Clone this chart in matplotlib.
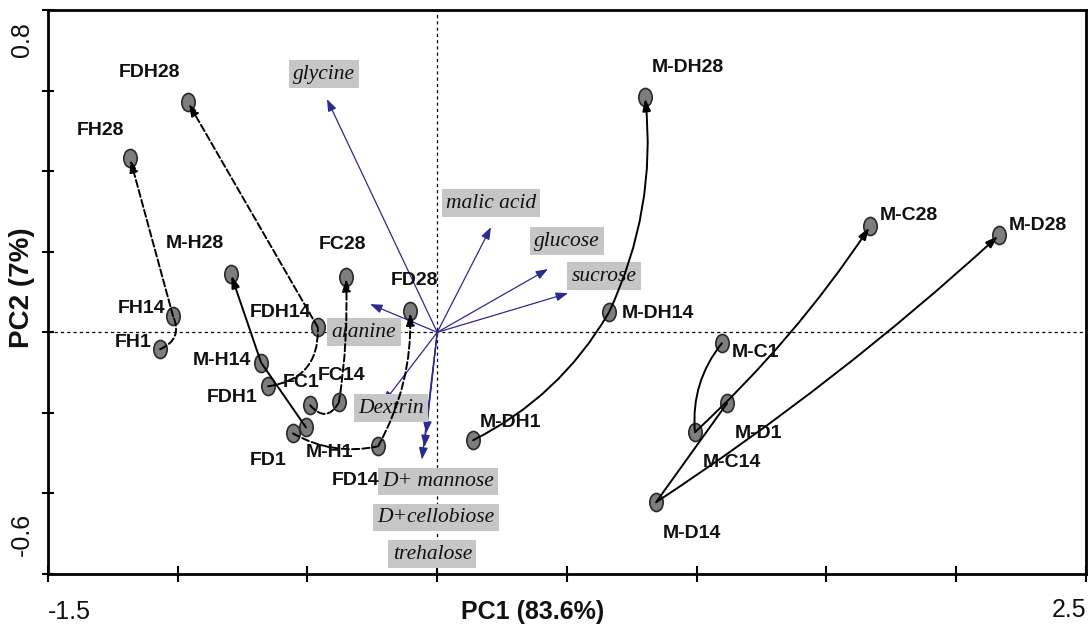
import matplotlib
matplotlib.use('Agg')
import numpy as np
import matplotlib.pyplot as plt
from matplotlib import font_manager
from matplotlib.path import Path
from matplotlib.transforms import Affine2D


def pick_font(*names):
    have = {f.name for f in font_manager.fontManager.ttflist}
    for n in names:
        if n in have:
            return n
    return 'DejaVu Sans'


sans = pick_font('Liberation Sans Narrow', 'Liberation Sans', 'Roboto')
serif = pick_font('Liberation Serif', 'DejaVu Serif')

#==========Scores (PC1 / PC2)==========
samples = ['FH1', 'FH14', 'FH28', 'FDH1', 'FDH14', 'FDH28',
           'FC1', 'FC14', 'FC28', 'FD1', 'FD14', 'FD28',
           'M-H1', 'M-H14', 'M-H28', 'M-DH1', 'M-DH14', 'M-DH28',
           'M-C1', 'M-C14', 'M-C28', 'M-D1', 'M-D14', 'M-D28']
pc1 = [-1.068, -1.018, -1.184, -0.652, -0.460, -0.961,
       -0.490, -0.379, -0.352, -0.556, -0.228, -0.105,
       -0.506, -0.679, -0.795, 0.138, 0.662, 0.801,
       1.097, 0.993, 1.668, 1.117, 0.843, 2.165]
pc2 = [-0.042, 0.040, 0.432, -0.134, 0.012, 0.571,
       -0.181, -0.174, 0.137, -0.251, -0.283, 0.052,
       -0.236, -0.075, 0.144, -0.268, 0.050, 0.584,
       -0.027, -0.248, 0.263, -0.176, -0.422, 0.241]

#==========Loadings==========
variables = ['glycine', 'malic acid', 'glucose', 'sucrose', 'alanine',
             'Dextrin', 'D+ mannose', 'D+cellobiose', 'trehalose']
load1 = [-0.425, 0.207, 0.427, 0.504, -0.259, -0.209, -0.059, -0.043, -0.050]
load2 = [0.579, 0.261, 0.157, 0.097, 0.070, -0.176, -0.316, -0.251, -0.285]

# storage time series (day 1 -> 14 -> 28)
series = [['FH1', 'FH14', 'FH28'], ['FDH1', 'FDH14', 'FDH28'],
          ['FC1', 'FC14', 'FC28'], ['FD1', 'FD14', 'FD28'],
          ['M-H1', 'M-H14', 'M-H28'], ['M-DH1', 'M-DH14', 'M-DH28'],
          ['M-C1', 'M-C14', 'M-C28'], ['M-D1', 'M-D14', 'M-D28']]

x_ticks = [-1.5, -1.0, -0.5, 0.0, 0.5, 1.0, 1.5, 2.0, 2.5]
y_ticks = [-0.6, -0.4, -0.2, 0.0, 0.2, 0.4, 0.6, 0.8]

#==========Layout==========
# curvature of each leg (1->14, 14->28)
bends = {'FH1': (0.5, 0.0), 'FDH1': (0.45, 0.0), 'FC1': (0.7, 0.05),
         'FD1': (0.19, 0.14), 'M-H1': (0.0, 0.0), 'M-DH1': (0.15, 0.14),
         'M-C1': (0.2, 0.06), 'M-D1': (0.0, 0.04)}
# label offsets in pixels
name_off = {'FDH28': (-38, 30), 'FH28': (-30, 28), 'M-H28': (-36, 31),
            'FC28': (-3, 33), 'FD28': (5, 31), 'FDH14': (-37, 15),
            'FH14': (-32, 8), 'FH1': (-27, 7), 'M-H14': (-39, 2),
            'FDH1': (-36, -11), 'FC1': (-9, 23), 'FC14': (3, 27),
            'M-H1': (24, -25), 'FD1': (-25, -27), 'FD14': (-23, -34),
            'M-DH1': (37, 18), 'M-DH14': (49, -1), 'M-DH28': (43, 30),
            'M-C1': (34, -9), 'M-D1': (31, -30), 'M-C14': (37, -30),
            'M-D14': (36, -31), 'M-C28': (39, 11), 'M-D28': (39, 10)}
var_off = {'glycine': (-3, 25), 'malic acid': (0, 24), 'glucose': (19, 28),
           'sucrose': (36, 17), 'alanine': (-6, -28), 'Dextrin': (8, -5),
           'D+ mannose': (16, -22), 'D+cellobiose': (10, -84),
           'trehalose': (8, -107)}

pos = {s: (x, y) for s, x, y in zip(samples, pc1, pc2)}

fig = plt.figure(figsize=(10.91, 6.39), dpi=100)
ax = fig.add_axes([0.044, 0.1017, 0.9514, 0.8826])
ax.set_xlim(x_ticks[0], x_ticks[-1])
ax.set_ylim(y_ticks[0], y_ticks[-1])

ax.axhline(0, color='k', lw=0.9, ls=(0, (2.5, 2.5)), zorder=1)
ax.axvline(0, color='k', lw=0.9, ls=(0, (2.5, 2.5)), zorder=1)

# loading vectors
navy = '#2b2b8f'
for name, lx, ly in zip(variables, load1, load2):
    ax.annotate('', xy=(lx, ly), xytext=(0, 0),
                arrowprops=dict(arrowstyle='-|>,head_length=0.6,head_width=0.22',
                                color=navy, lw=0.9, shrinkA=0, shrinkB=0,
                                mutation_scale=12), zorder=2)
    ax.annotate(name, xy=(lx, ly), xytext=var_off[name], textcoords='offset pixels',
                ha='center', va='center', fontsize=15.5, style='italic',
                family=serif, color='#111111', zorder=3,
                bbox=dict(boxstyle='square,pad=0.2', fc='#c6c6c6', ec='none'))

# sample markers
ellipse = Path.unit_circle().transformed(Affine2D().scale(0.74, 1.0))
ax.plot(pc1, pc2, ls='none', marker=ellipse, ms=13, mfc='#7d7d7d',
        mec='#2a2a2a', mew=1.2, zorder=4)

# trajectories over time
for grp in series:
    ls = '--' if grp[0].startswith('F') else '-'
    r1, r2 = bends[grp[0]]
    for (a, b), r, last in zip([(grp[0], grp[1]), (grp[1], grp[2])], (r1, r2), (False, True)):
        style = '-|>,head_length=0.6,head_width=0.2' if last else '-'
        ax.annotate('', xy=pos[b], xytext=pos[a],
                    arrowprops=dict(arrowstyle=style, color='k', lw=1.4, ls=ls,
                                    connectionstyle='arc3,rad=%g' % r,
                                    shrinkA=0, shrinkB=1, mutation_scale=12),
                    zorder=5)

for s in samples:
    ax.annotate(s, xy=pos[s], xytext=name_off[s], textcoords='offset pixels',
                ha='center', va='center', fontsize=14, fontweight='bold',
                family=sans, color='#111111', zorder=6)

# axes frame and ticks
for sp in ax.spines.values():
    sp.set_linewidth(2.0)
ax.set_xticks(x_ticks)
ax.set_yticks(y_ticks)
ax.set_xticklabels([])
ax.set_yticklabels([])
ax.tick_params(axis='x', direction='inout', length=12, width=1.5)
ax.tick_params(axis='y', direction='inout', length=8, width=1.5)

lab = dict(family=sans, fontsize=18, color='#111111', annotation_clip=False)
ax.annotate('%g' % x_ticks[0], xy=(0, 0), xycoords='axes fraction', xytext=(0, -38),
            textcoords='offset pixels', ha='left', va='center', **lab)
ax.annotate('%g' % x_ticks[-1], xy=(1, 0), xycoords='axes fraction', xytext=(0, -36),
            textcoords='offset pixels', ha='right', va='center', **lab)
ax.annotate('%g' % y_ticks[-1], xy=(0, 1), xycoords='axes fraction', xytext=(-26, -30),
            textcoords='offset pixels', ha='center', va='center', rotation=90, **lab)
ax.annotate('%g' % y_ticks[0], xy=(0, 0), xycoords='axes fraction', xytext=(-26, 40),
            textcoords='offset pixels', ha='center', va='center', rotation=90, **lab)

ax.annotate('PC1 (83.6%)', xy=(0.467, 0), xycoords='axes fraction', xytext=(0, -38),
            textcoords='offset pixels', ha='center', va='center', fontweight='bold', **lab)
lab['fontsize'] = 20
ax.annotate('PC2 (7%)', xy=(0, 0.507), xycoords='axes fraction', xytext=(-26, 0),
            textcoords='offset pixels', ha='center', va='center', rotation=90,
            fontweight='bold', **lab)

fig.savefig('out.png', dpi=100)
